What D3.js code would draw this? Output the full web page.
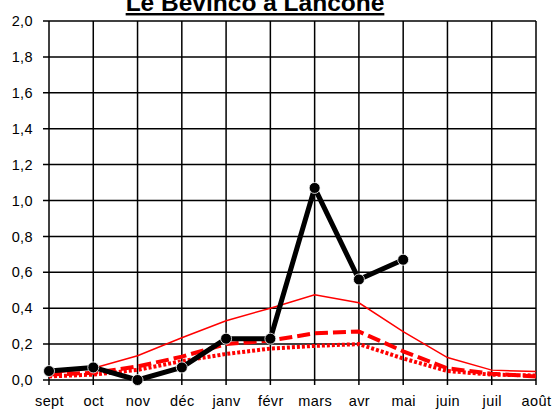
<!DOCTYPE html>
<html>
<head>
<meta charset="utf-8">
<script src="https://cdn.jsdelivr.net/npm/d3@7"></script>
<style>
body{margin:0;background:#fff}
text{font-family:"Liberation Sans",Arial,sans-serif}
</style>
</head>
<body>
<div id="chart"></div>
<script>
var months = ["sept","oct","nov","déc","janv","févr","mars","avr","mai","juin","juil","août"]
var yTicks = [0,0.2,0.4,0.6,0.8,1.0,1.2,1.4,1.6,1.8,2.0]
// mesures de l'année (noir)
var observed = [0.05,0.07,0.0,0.07,0.23,0.23,1.07,0.56,0.67]
// références (rouge)
var refHigh = [0.035,0.065,0.135,0.235,0.33,0.40,0.475,0.43,0.27,0.125,0.055,0.047]
var refMid = [0.03,0.04,0.075,0.13,0.20,0.22,0.26,0.27,0.16,0.065,0.035,0.02]
var refLow = [0.02,0.03,0.056,0.105,0.145,0.175,0.19,0.20,0.12,0.05,0.03,0.025]

var w = 552, h = 410
var padLeft = 49, padRight = 536, padTop = 21, padBottom = 380

var svg = d3.select("#chart").append("svg").attr("width",w).attr("height",h)

var x = d3.scalePoint().domain(months).range([padLeft,padRight])
var y = d3.scaleLinear().domain([0,2]).range([padBottom,padTop])

// grille
svg.selectAll(".hgrid").data(yTicks).enter().append("line")
    .attr("x1",padLeft-6).attr("x2",padRight)
    .attr("y1",function(d){return y(d)}).attr("y2",function(d){return y(d)})
    .attr("stroke","#000").attr("stroke-width",1.5)
svg.selectAll(".vgrid").data(months).enter().append("line")
    .attr("x1",function(d){return x(d)}).attr("x2",function(d){return x(d)})
    .attr("y1",padTop).attr("y2",padBottom+5)
    .attr("stroke","#000").attr("stroke-width",1.5)

// axes
svg.append("g").attr("transform","translate(0,"+padBottom+")")
    .call(d3.axisBottom(x).tickSize(0).tickPadding(15.5))
    .call(function(g){g.select(".domain").remove()})
    .selectAll("text").attr("font-size",14.5).attr("letter-spacing",0.4).attr("fill","#000")
svg.append("g").attr("transform","translate("+(padLeft-16)+",0)")
    .call(d3.axisLeft(y).tickValues(yTicks).tickSize(0).tickPadding(0)
        .tickFormat(function(d){return d3.format(".1f")(d).replace(".",",")}))
    .call(function(g){g.select(".domain").remove()})
    .selectAll("text").attr("font-size",14.5).attr("letter-spacing",0.4).attr("fill","#000")

var line = d3.line().x(function(d,i){return x(months[i])}).y(function(d){return y(d)})

svg.append("path").attr("d",line(refHigh)).attr("fill","none")
    .attr("stroke","#ff0000").attr("stroke-width",1.5)
svg.append("path").attr("d",line(refLow)).attr("fill","none")
    .attr("stroke","#ff0000").attr("stroke-width",4).attr("stroke-dasharray","3,2")
svg.append("path").attr("d",line(refMid)).attr("fill","none")
    .attr("stroke","#ff0000").attr("stroke-width",4).attr("stroke-dasharray","13,5")

svg.append("path").attr("d",line(observed)).attr("fill","none")
    .attr("stroke","#000").attr("stroke-width",5).attr("stroke-linejoin","round")
svg.selectAll(".obs").data(observed).enter().append("circle")
    .attr("cx",function(d,i){return x(months[i])})
    .attr("cy",function(d){return y(d)})
    .attr("r",5.5).attr("fill","#000").attr("stroke","#fff").attr("stroke-width",0.8)

// titre (coupé en haut comme dans l'original)
svg.append("text").attr("x",255).attr("y",11).attr("text-anchor","middle")
    .attr("font-size",24.5).attr("font-weight","bold").attr("text-decoration","underline")
    .text("Le Bevinco à Lancone")
</script>
</body>
</html>
